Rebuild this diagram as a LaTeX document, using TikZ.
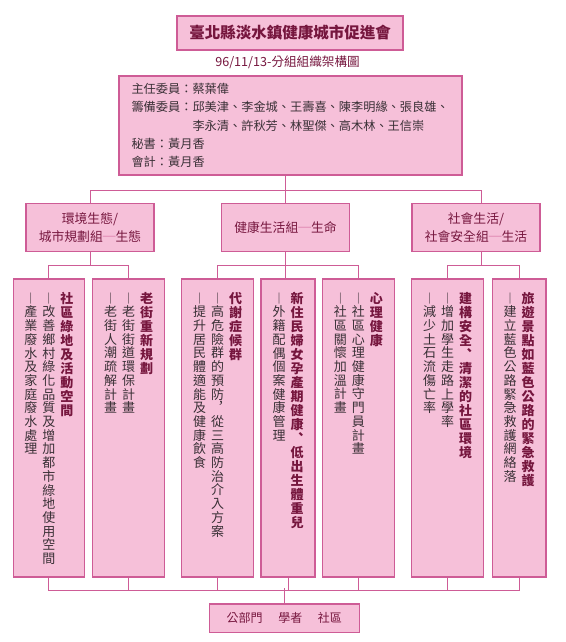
\documentclass[tikz,border=0pt]{standalone}
\usepackage{fontspec}
\setmainfont{Noto Sans CJK TC}
\usepackage{tikz}
\usetikzlibrary{positioning}
\definecolor{pinkfill}{RGB}{246,192,217}
\definecolor{pinkline}{RGB}{206,92,150}
\definecolor{maroon}{RGB}{118,22,62}
\definecolor{bodygray}{RGB}{58,48,54}
% one column of vertical text, one character per cell
\newcommand{\vcol}[2]{\vtop{\baselineskip=#1\lineskiplimit=-\maxdimen\lineskip=0pt\vcolnext#2\relax}}
\def\vcolnext#1{\ifx\relax#1\else\hbox to 13pt{\hss#1\hss}\expandafter\vcolnext\fi}
\newcommand{\vhead}[1]{{\color{maroon}\bfseries\vcol{14pt}{#1}}}
\newcommand{\vbody}[1]{{\color{bodygray}\vcol{13.7pt}{#1}}}
\newcommand{\leafcols}[1]{\vbox to 272pt{\hbox{#1}\vss}}

\begin{document}
\begin{tikzpicture}[x=1pt,y=-1pt,
    pinkbox/.style={draw=pinkline, fill=pinkfill, line width=1.2pt, inner sep=0pt},
    groupbox/.style={pinkbox, minimum width=128pt, minimum height=48.5pt, align=center,
      text=maroon, font=\fontsize{12.8}{18.3}\selectfont},
    leafbox/.style={pinkbox, minimum height=298pt, font=\fontsize{13}{14}\selectfont},
    bus/.style={draw=pinkline, line width=1pt}]
  \path[fill=white] (0,0) rectangle (565,642);

  % heading
  \node[pinkbox, minimum width=226pt, minimum height=34pt, text=maroon,
        font=\fontsize{15.5}{17}\selectfont\bfseries] (title) at (290,33) {臺北縣淡水鎮健康城市促進會};
  \node[text=maroon, font=\fontsize{12.6}{14}\selectfont, inner sep=0pt] (subtitle) at (287.5,62) {96/11/13-分組組織架構圖};
  \node[pinkbox, minimum width=343pt, minimum height=99pt, align=left, text width=318pt,
        inner xsep=12.5pt, text=bodygray, font=\fontsize{12.2}{18.2}\selectfont] (board) at (290.5,125.5) {
    主任委員：蔡葉偉\\
    籌備委員：邱美津、李金城、王壽喜、陳李明緣、張良雄、\\
    \phantom{籌備委員：}李永清、許秋芳、林聖傑、高木林、王信崇\\
    秘書：黃月香\\
    會計：黃月香};

  % three groups
  \node[groupbox] (gL) at (90,227.5) {環境生態/\\城市規劃組{\color{pinkline}─}生態};
  \node[groupbox] (gC) at (285.5,227.5) {健康生活組{\color{pinkline}─}生命};
  \node[groupbox] (gR) at (476,227.5) {社會生活/\\社會安全組{\color{pinkline}─}生活};

  % projects
  \node[leafbox, minimum width=71pt] (l1) at (48.8,428) {\leafcols{\vbody{︱產業廢水及家庭廢水處理}\hskip5pt\vbody{︱改善鄉村綠化品質及增加都市綠地使用空間}\hskip5pt\vhead{社區綠地及活動空間}}};
  \node[leafbox, minimum width=71.6pt] (l2) at (128.5,428) {\leafcols{\vbody{︱老街人潮疏解計畫}\hskip5pt\vbody{︱老街街道環保計畫}\hskip5pt\vhead{老街重新規劃}}};
  \node[leafbox, minimum width=71.6pt] (l3) at (217.5,428) {\leafcols{\vbody{︱提升居民體適能及健康飲食}\hskip5pt\vbody{︱高危險群的預防︐從三高防治介入方案}\hskip5pt\vhead{代謝症候群}}};
  \node[leafbox, minimum width=54pt] (l4) at (288,428) {\leafcols{\vbody{︱外籍配偶個案健康管理}\hskip5pt\vhead{新住民婦女孕產期健康︑低出生體重兒}}};
  \node[leafbox, minimum width=72pt] (l5) at (358.3,428) {\leafcols{\vbody{︱社區關懷加溫計畫}\hskip5pt\vbody{︱社區心理健康守門員計畫}\hskip5pt\vhead{心理健康}}};
  \node[leafbox, minimum width=71.6pt] (l6) at (447.5,428) {\leafcols{\vbody{︱減少土石流傷亡率}\hskip5pt\vbody{︱增加學生走路上學率}\hskip5pt\vhead{建構安全︑清潔的社區環境}}};
  \node[leafbox, minimum width=53.7pt] (l7) at (519.2,428) {\leafcols{\vbody{︱建立藍色公路緊急救護網絡落}\hskip5pt\vhead{旅遊景點如藍色公路的緊急救護}}};

  \node[pinkbox, minimum width=150pt, minimum height=28.7pt, text=maroon,
        font=\fontsize{12}{14}\selectfont] (base) at (284.3,618.3) {公部門\hspace{1.3em}學者\hspace{1.3em}社區};

  % connectors
  \draw[bus] (gC.north) -- (gC.north |- board.south);
  \draw[bus] (gL.north) -- ++(0,-12.5) -| ([xshift=5pt]gR.north);
  \draw[bus] (gL.south) -- ++(0,14);
  \draw[bus] (gC.south) -- ++(0,14);
  \draw[bus] ([xshift=5pt]gR.south) -- ++(0,14);
  \draw[bus] (l1.north) -- ++(0,-13) -| (l2.north);
  \draw[bus] (l3.north) -- ++(0,-13) -| (l5.north);
  \draw[bus] (gC.south) -- (gC.south |- l4.north);
  \draw[bus] (l6.north) -- ++(0,-13) -| (l7.north);
  \draw[bus] (l1.south) -- ++(0,12.5) -| (l7.south);
  \foreach \i in {2,...,6}
    \draw[bus] (l\i.south) -- ++(0,12.5);
  \draw[bus] (base.north) -- ++(0,-15);
\end{tikzpicture}
\end{document}
